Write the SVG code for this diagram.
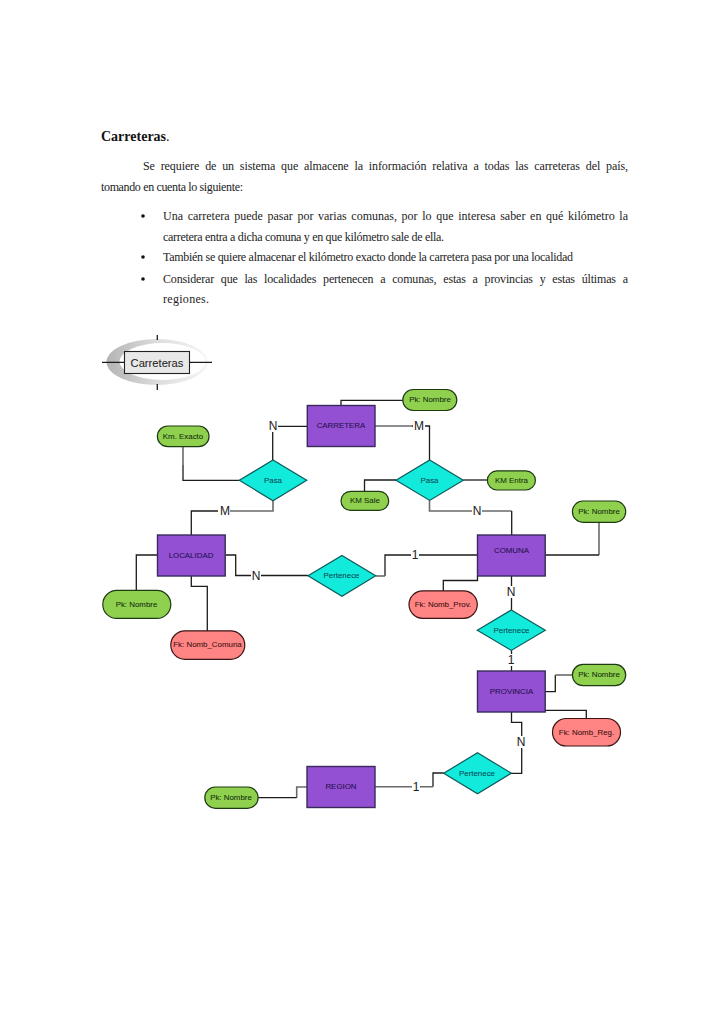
<svg xmlns="http://www.w3.org/2000/svg" width="728" height="1031" viewBox="0 0 728 1031">
<style>
.t{font-family:"Liberation Serif","Times New Roman",serif;font-size:12px;fill:#222;opacity:.99}
.h{font-family:"Liberation Serif","Times New Roman",serif;font-size:14px;fill:#111;opacity:.99}
.l{font-family:"Liberation Sans",Arial,sans-serif;font-size:7.9px;text-anchor:middle;dominant-baseline:central;stroke-width:.08}
.le{fill:#24104f;stroke:#24104f}
.lr{fill:#084a55;stroke:#084a55}
.lp{fill:#16300e;stroke:#16300e}
.lf{fill:#401010;stroke:#401010}
.e{fill:#9450d2;stroke:#3a2a5c;stroke-width:1.4}
.r{fill:#12eadc;stroke:#0c5a5a;stroke-width:1.2}
.p{fill:#8fd14f;stroke:#1d3a12;stroke-width:1.2}
.f{fill:#ff8585;stroke:#3d1414;stroke-width:1.2}
.c{fill:none;stroke:#1c1c1c;stroke-width:1.3}
.g{fill:none;stroke:#6a6a6a;stroke-width:1.6}
.k{font-family:"Liberation Sans",Arial,sans-serif;font-size:12px;text-anchor:middle;dominant-baseline:central;fill:#222;stroke:#222;stroke-width:.05}
.bg{fill:#fff;stroke:none}
</style>
<defs>
<linearGradient id="cres" x1="0" y1="0" x2="1" y2="0"><stop offset="0" stop-color="#b4b4b4"/><stop offset=".5" stop-color="#dcdcdc"/><stop offset="1" stop-color="#f6f6f6"/></linearGradient>
</defs>
<rect width="728" height="1031" fill="#fff"/>
<g id="texto">
<text class="h" x="101" y="140.5"><tspan font-weight="bold">Carreteras</tspan><tspan>.</tspan></text>
<text class="t" x="143" y="169.5" textLength="485" word-spacing="3">Se requiere de un sistema que almacene la información relativa a todas las carreteras del país,</text>
<text class="t" x="101" y="190.5" textLength="142">tomando en cuenta lo siguiente:</text>
<circle cx="143" cy="216" r="1.8" fill="#111"/>
<text class="t" x="163" y="220" textLength="465" word-spacing="1.7">Una carretera puede pasar por varias comunas, por lo que interesa saber en qué kilómetro la</text>
<text class="t" x="163" y="240.5" textLength="281">carretera entra a dicha comuna y en que kilómetro sale de ella.</text>
<circle cx="143" cy="257" r="1.8" fill="#111"/>
<text class="t" x="163" y="260.5" textLength="410">También se quiere almacenar el kilómetro exacto donde la carretera pasa por una localidad</text>
<circle cx="143" cy="279" r="1.8" fill="#111"/>
<text class="t" x="163" y="282.5" textLength="465" word-spacing="4">Considerar que las localidades pertenecen a comunas, estas a provincias y estas últimas a</text>
<text class="t" x="163" y="302.5" textLength="46">regiones.</text>
</g>
<g id="logo">
<ellipse cx="157" cy="362" rx="50.5" ry="23" fill="url(#cres)"/>
<ellipse cx="162.5" cy="361.5" rx="43" ry="18.5" fill="#fff"/>
<path class="c" d="M102 362.3H124.5M189.5 362.3H212M157.3 335V340M157.3 384V390"/>
<rect x="124.5" y="351.5" width="65" height="22" fill="#e8e8e8" stroke="#222" stroke-width="1.1"/>
<text class="k" x="157" y="362.5" style="font-size:11.2px">Carreteras</text>
</g>
<g id="conectores">
<path class="c" d="M341 405V400.3H403"/>
<path class="c" d="M307 426.3H272.7V460"/>
<path class="g" d="M375 426H412"/>
<path class="c" d="M412 426H429.5V460"/>
<path class="g" d="M183 447V465"/>
<path class="c" d="M183 465V480.3H239.5"/>
<path class="g" d="M273 501V511H225"/>
<path class="c" d="M225 511H191.3V535"/>
<path class="c" d="M396 480H364.5V491.5"/>
<path class="c" d="M463.3 480H487.5"/>
<path class="g" d="M429.5 500.5V511H511.7"/>
<path class="c" d="M511.7 511V535"/>
<path class="g" d="M599 522.5V555"/>
<path class="c" d="M599 555H545"/>
<path class="c" d="M477.5 555H385V576"/>
<path class="g" d="M385 576H375.7"/>
<path class="c" d="M225.5 555H235.7V575.5H308"/>
<path class="c" d="M157.5 555H136.3V590.5"/>
<path class="c" d="M191.3 575.7V586.3H207.3V631"/>
<path class="c" d="M477.5 575.7V580.5H443.3V591"/>
<path class="c" d="M511.5 575.7V610M511.5 650.3V671"/>
<path class="c" d="M545 691.7H555.3V675"/>
<path class="g" d="M555.3 675H572.5"/>
<path class="c" d="M545 710.3H586.3V718.5"/>
<path class="c" d="M511.5 712V722.3H521.7V773.3H511"/>
<path class="c" d="M443.7 773H433V786.8"/>
<path class="g" d="M433 786.8H375"/>
<path class="g" d="M307 787H296.7V797.7"/>
<path class="c" d="M296.7 797.7H258"/>
<rect class="bg" x="268" y="420" width="10" height="12"/><text class="k" x="273" y="426">N</text>
<rect class="bg" x="413" y="420" width="12" height="12"/><text class="k" x="419" y="426">M</text>
<rect class="bg" x="218" y="505" width="12" height="12"/><text class="k" x="225" y="511">M</text>
<rect class="bg" x="472" y="505" width="10" height="12"/><text class="k" x="477" y="511">N</text>
<rect class="bg" x="411" y="549" width="8" height="12"/><text class="k" x="415" y="555">1</text>
<rect class="bg" x="251" y="570" width="10" height="12"/><text class="k" x="256" y="576">N</text>
<rect class="bg" x="506" y="586" width="10" height="12"/><text class="k" x="511" y="592">N</text>
<rect class="bg" x="507" y="654" width="8" height="12"/><text class="k" x="511" y="660">1</text>
<rect class="bg" x="516" y="736" width="10" height="12"/><text class="k" x="521" y="742">N</text>
<rect class="bg" x="412" y="781" width="8" height="12"/><text class="k" x="416" y="787">1</text>
</g>
<g id="carretera"><rect class="e" x="307.3" y="405.5" width="67.7" height="41"/><text class="l le" x="341" y="425.5">CARRETERA</text></g>
<g id="comuna"><rect class="e" x="477.5" y="535" width="67.7" height="41"/><text class="l le" x="511.5" y="550">COMUNA</text></g>
<g id="localidad"><rect class="e" x="157.5" y="535" width="67.7" height="41"/><text class="l le" x="191" y="555">LOCALIDAD</text></g>
<g id="provincia"><rect class="e" x="477.5" y="671" width="67.7" height="41"/><text class="l le" x="511.5" y="691">PROVINCIA</text></g>
<g id="region"><rect class="e" x="307" y="766.5" width="68" height="41"/><text class="l le" x="341" y="786.5">REGION</text></g>
<g id="pasa1"><polygon class="r" points="273,460 306.7,480.3 273,500.7 239.3,480.3"/><text class="l lr" x="273" y="480.5">Pasa</text></g>
<g id="pasa2"><polygon class="r" points="429.7,460 463.3,480.2 429.7,500.4 396,480.2"/><text class="l lr" x="429.5" y="480.5">Pasa</text></g>
<g id="pertenece1"><polygon class="r" points="342,555.4 375.7,575.8 342,596.3 308,575.8"/><text class="l lr" x="341.5" y="575.5">Pertenece</text></g>
<g id="pertenece2"><polygon class="r" points="511.3,610 545.3,630.2 511.3,650.4 477.3,630.2"/><text class="l lr" x="511.5" y="630">Pertenece</text></g>
<g id="pertenece3"><polygon class="r" points="477.5,752.8 511.3,773.2 477.5,793.7 443.7,773.2"/><text class="l lr" x="477" y="773">Pertenece</text></g>
<g id="pk-carretera"><rect class="p" x="402.8" y="389.5" width="54" height="21" rx="10.5"/><text class="l lp" x="430" y="399.5">Pk: Nombre</text></g>
<g id="km-entra"><rect class="p" x="487.4" y="470.8" width="48" height="19.2" rx="9.6"/><text class="l lp" x="511.5" y="480">KM Entra</text></g>
<g id="km-sale"><rect class="p" x="341" y="491.4" width="47.7" height="19" rx="9.5"/><text class="l lp" x="365" y="500.5">KM Sale</text></g>
<g id="pk-comuna"><rect class="p" x="572.4" y="501" width="53.3" height="21.3" rx="10.6"/><text class="l lp" x="599" y="511">Pk: Nombre</text></g>
<g id="km-exacto"><rect class="p" x="157.4" y="426" width="51.6" height="20.7" rx="10.3"/><text class="l lp" x="183" y="436">Km. Exacto</text></g>
<g id="pk-localidad"><rect class="p" x="102.8" y="590.4" width="68" height="28" rx="14"/><text class="l lp" x="136.5" y="604">Pk: Nombre</text></g>
<g id="fk-comuna"><rect class="f" x="170.8" y="630.8" width="74" height="28.5" rx="14.2"/><text class="l lf" x="207.5" y="644.5">Fk: Nomb_Comuna</text></g>
<g id="fk-prov"><rect class="f" x="409" y="590.8" width="68.3" height="27.5" rx="13.7"/><text class="l lf" x="443" y="604">Fk: Nomb_Prov.</text></g>
<g id="pk-provincia"><rect class="p" x="572.4" y="664.4" width="53.3" height="21.3" rx="10.6"/><text class="l lp" x="599" y="674.5">Pk: Nombre</text></g>
<g id="fk-reg"><rect class="f" x="552.5" y="718.5" width="68" height="27.5" rx="13.7"/><text class="l lf" x="586.5" y="732">Fk: Nomb_Reg.</text></g>
<g id="pk-region"><rect class="p" x="204.8" y="787" width="53.3" height="21.3" rx="10.6"/><text class="l lp" x="231" y="797">Pk: Nombre</text></g>
</svg>
